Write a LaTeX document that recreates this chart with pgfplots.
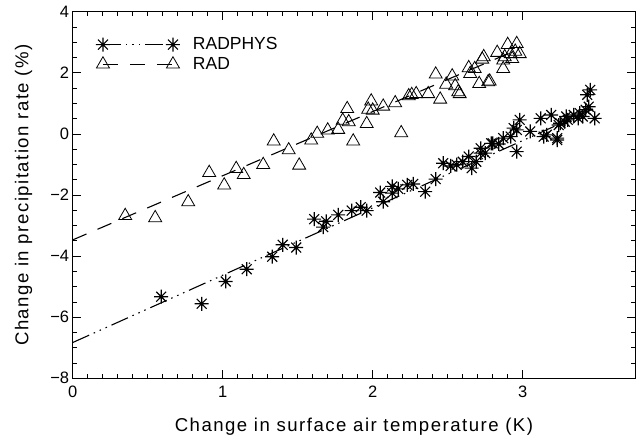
\documentclass[border=0pt]{standalone}
\usepackage{fontspec}
\setmainfont{Liberation Sans}
\newfontfamily\lsp[LetterSpace=8]{Liberation Sans}
\usepackage{pgfplots}
\pgfplotsset{compat=1.18}

% IDL style asterisk: plus and cross
\pgfdeclareplotmark{ast8}{%
  \pgfpathmoveto{\pgfqpoint{0pt}{\pgfplotmarksize}}%
  \pgfpathlineto{\pgfqpoint{0pt}{-\pgfplotmarksize}}%
  \pgfpathmoveto{\pgfqpoint{\pgfplotmarksize}{0pt}}%
  \pgfpathlineto{\pgfqpoint{-\pgfplotmarksize}{0pt}}%
  \pgfpathmoveto{\pgfqpoint{0.707\pgfplotmarksize}{0.707\pgfplotmarksize}}%
  \pgfpathlineto{\pgfqpoint{-0.707\pgfplotmarksize}{-0.707\pgfplotmarksize}}%
  \pgfpathmoveto{\pgfqpoint{-0.707\pgfplotmarksize}{0.707\pgfplotmarksize}}%
  \pgfpathlineto{\pgfqpoint{0.707\pgfplotmarksize}{-0.707\pgfplotmarksize}}%
  \pgfusepathqstroke}

\tikzset{
  physline/.style={dash pattern=on 18pt off 5pt on 1.5pt off 5pt on 1.5pt off 5pt on 1.5pt off 5pt},
  radline/.style={dash pattern=on 15pt off 12pt},
}

\begin{document}
\begin{tikzpicture}
\begin{axis}[
  scale only axis,
  width=562.5pt, height=366.6pt,
  xmin=0, xmax=3.75, ymin=-8, ymax=4,
  xtick={0,1,2,3}, xticklabels={0,1,2,3},
  minor x tick num=9,
  ytick={-8,-6,-4,-2,0,2,4}, yticklabels={−8,−6,−4,−2,0,2,4},
  minor y tick num=3,
  tick align=inside, tick pos=both,
  major tick length=8pt, minor tick length=4pt,
  axis line style={line width=0.8pt},
  tick style={line width=0.7pt, black},
  ticklabel style={font=\fontsize{16.5}{16.5}\selectfont},
  xticklabel style={yshift=-4pt},
  xlabel={Change in surface air temperature (K)},
  ylabel={Change in precipitation rate (\%)},
  every axis x label/.style={at={(axis description cs:0.5,-0.1457)}, anchor=base},
  every axis y label/.style={at={(axis description cs:-0.0789,0.5)}, anchor=base, rotate=90},
  label style={font=\lsp\fontsize{18.6}{20}\selectfont},
  legend cell align=left,
  legend style={draw=none, fill=none, at={(rel axis cs:0.041,0.935)}, anchor=north west,
    font=\fontsize{17.5}{17.5}\selectfont, row sep=2pt, inner sep=0pt,
    /tikz/every odd column/.append style={column sep=11pt}},
  legend image code/.code={\draw[#1] plot coordinates {(0pt,0pt) (70pt,0pt)};},
]
\addlegendimage{black, line width=1.1pt, physline, mark=ast8, mark size=7pt, mark options={solid, line width=1.1pt}}
\addlegendentry{RADPHYS}
\addlegendimage{black, line width=1.1pt, radline, mark=triangle, mark size=7.5pt, mark options={solid, line width=0.8pt}}
\addlegendentry{RAD}

% RAD points
\addplot[forget plot, only marks, mark=triangle, mark size=7.5pt, mark options={line width=0.8pt, black}] coordinates {
(0.35,-2.68) (0.55,-2.75) (0.77,-2.23) (0.91,-1.27) (1.01,-1.68) (1.09,-1.14)
(1.14,-1.34) (1.27,-1.01) (1.34,-0.24) (1.44,-0.53) (1.51,-1.03) (1.59,-0.21)
(1.63,0.01) (1.70,0.12) (1.77,0.14) (1.80,0.44) (1.84,0.39) (1.83,0.82)
(1.87,-0.24) (1.96,0.33) (1.99,1.07) (1.97,0.80) (2.00,0.77) (2.07,0.90)
(2.15,1.01) (2.19,0.03) (2.24,1.24) (2.26,1.28) (2.29,1.31) (2.37,1.31)
(2.45,1.13) (2.42,1.95) (2.49,1.62) (2.53,1.89) (2.55,1.57) (2.58,1.31)
(2.57,1.37) (2.64,2.16) (2.65,1.97) (2.68,2.13) (2.71,1.64) (2.73,2.44)
(2.74,2.52) (2.77,1.70) (2.78,1.72) (2.83,2.66) (2.87,2.13) (2.87,2.41)
(2.88,2.52) (2.90,2.92) (2.96,2.95) (2.92,2.62) (2.95,2.70) (2.98,2.62)
(2.93,2.46)
};
\addplot[forget plot, black, line width=1.1pt, radline] coordinates {(0,-3.47) (2.98,2.79)};

% RADPHYS points
\addplot[forget plot, only marks, mark=ast8, mark size=7pt, mark options={line width=1.1pt, black}] coordinates {
(0.59,-5.33) (0.86,-5.56) (1.02,-4.83) (1.16,-4.43) (1.33,-4.02) (1.40,-3.63)
(1.49,-3.72) (1.61,-2.79) (1.67,-3.05) (1.69,-2.86) (1.77,-2.65) (1.86,-2.51)
(1.92,-2.40) (1.96,-2.51) (2.05,-1.92) (2.07,-2.22) (2.13,-1.72) (2.13,-1.94)
(2.17,-1.80) (2.23,-1.67) (2.27,-1.64) (2.35,-1.89) (2.42,-1.48) (2.47,-0.96)
(2.52,-1.05) (2.56,-1.01) (2.60,-0.91) (2.64,-0.74) (2.66,-1.12) (2.69,-0.91)
(2.72,-0.63) (2.72,-0.47) (2.75,-0.63) (2.79,-0.31) (2.80,-0.31) (2.84,-0.33)
(2.87,-0.14) (2.92,-0.09) (2.96,-0.58) (2.94,0.19) (2.96,0.13) (2.98,0.46)
(3.05,0.08) (3.12,0.51) (3.14,-0.09) (3.16,-0.03) (3.19,0.62) (3.23,-0.20)
(3.23,-0.14) (3.24,0.29) (3.25,0.35) (3.28,0.40) (3.30,0.46) (3.29,0.57)
(3.34,0.62) (3.37,0.51) (3.38,0.68) (3.40,0.57) (3.42,0.79) (3.43,1.28)
(3.44,0.89) (3.45,1.44) (3.48,0.51)
};
\addplot[forget plot, black, line width=1.1pt, physline] coordinates {(0,-6.83) (3.48,0.84)};
\end{axis}
\path (current axis.south west) ++(-72.7pt,-57.7pt);
\path (current axis.north east) ++(0.8pt,11.7pt);
\end{tikzpicture}
\end{document}
